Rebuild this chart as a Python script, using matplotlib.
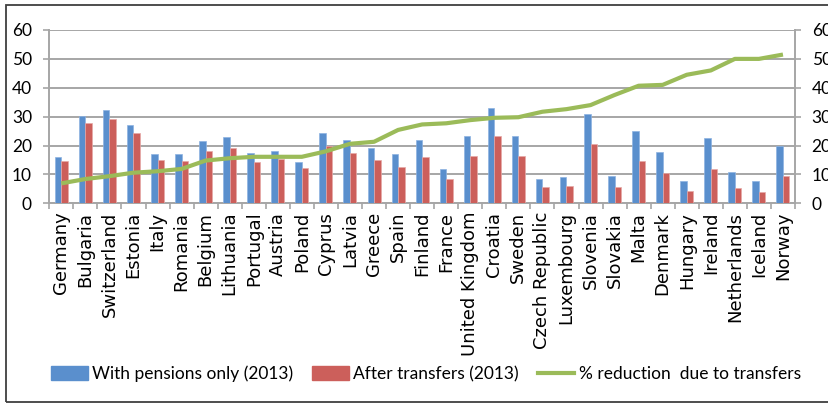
import matplotlib
matplotlib.use("Agg")
import matplotlib.pyplot as plt
from matplotlib.patches import Patch, Rectangle
from matplotlib.lines import Line2D
import numpy as np

countries = ["Germany", "Bulgaria", "Switzerland", "Estonia", "Italy", "Romania",
             "Belgium", "Lithuania", "Portugal", "Austria", "Poland", "Cyprus",
             "Latvia", "Greece", "Spain", "Finland", "France", "United Kingdom",
             "Croatia", "Sweden", "Czech Republic", "Luxembourg", "Slovenia",
             "Slovakia", "Malta", "Denmark", "Hungary", "Ireland", "Netherlands",
             "Iceland", "Norway"]
pensions_only = [15.9, 30.2, 32.3, 27.1, 17.0, 16.9, 21.5, 22.8, 17.3, 18.2, 14.4,
                 24.2, 21.9, 19.0, 17.0, 22.0, 11.9, 23.3, 33.0, 23.3, 8.4, 9.1,
                 30.9, 9.5, 24.9, 17.8, 7.6, 22.5, 10.7, 7.8, 19.8]
after_transfers = [14.6, 27.7, 29.2, 24.2, 15.1, 14.7, 18.2, 19.1, 14.3, 15.4, 12.1,
                   19.9, 17.5, 15.0, 12.6, 16.0, 8.5, 16.4, 23.3, 16.4, 5.8, 6.0,
                   20.4, 5.8, 14.7, 10.5, 4.3, 12.0, 5.3, 3.8, 9.6]
reduction = [6.9, 8.4, 9.4, 10.6, 11.1, 11.9, 14.8, 15.6, 16.1, 16.1, 16.1, 18.0,
             20.6, 21.3, 25.4, 27.3, 27.7, 28.8, 29.6, 29.8, 31.7, 32.6, 34.0,
             37.5, 40.7, 41.0, 44.5, 46.0, 50.0, 50.0, 51.5]
yticks = [0, 10, 20, 30, 40, 50, 60]
legend_labels = ["With pensions only (2013)", "After transfers (2013)",
                 "% reduction  due to transfers"]

BLUE = "#5A8FCD"
RED = "#CC5F5B"
GREEN = "#9BBB59"
GRID = "#A6A6A6"
NUMFONT = "Lato"

W, H = 829, 404
fig = plt.figure(figsize=(W / 100, H / 100), dpi=100)
fig.patch.set_facecolor("white")

# outer frame
fig.patches.append(Rectangle((5.7 / W, 1 - 401.7 / H), 1.2, (401.7 - 5) / H,
                             transform=fig.transFigure, fill=False,
                             edgecolor="#3F3F3F", linewidth=1.3, zorder=0))

left, right, top, bottom = 49.3, 795.0, 30.0, 203.3
ax = fig.add_axes([left / W, 1 - bottom / H, (right - left) / W, (bottom - top) / H])
x = np.arange(len(countries))
bw = 0.27
ax.bar(x - bw / 2, pensions_only, width=bw, color=BLUE, edgecolor="#8DB3E2",
       linewidth=0.5, zorder=3)
ax.bar(x + bw / 2, after_transfers, width=bw, color=RED, edgecolor="#E6A9A7",
       linewidth=0.5, zorder=3)

ax.set_xlim(-0.5, len(countries) - 0.5)
ax.set_ylim(0, 60)
ax.set_yticks(yticks)
ax.set_yticklabels([str(v) for v in yticks], fontsize=12.5, family=NUMFONT)
ax.yaxis.grid(True, color=GRID, linewidth=1.4, zorder=0)
ax.set_axisbelow(True)
ax.set_xticks(x)
ax.set_xticklabels(countries, rotation=90, fontsize=13, family="DejaVu Sans")
ax.set_xticks(np.arange(-0.5, len(countries), 1.0), minor=True)
ax.tick_params(axis="x", which="major", length=0, pad=6)
ax.tick_params(axis="x", which="minor", length=4.5, color=GRID, width=1.2)
ax.tick_params(axis="y", length=4.5, color=GRID, width=1.2, pad=8)
for s in ["top", "right"]:
    ax.spines[s].set_visible(False)
for s in ["left", "bottom"]:
    ax.spines[s].set_color(GRID)
    ax.spines[s].set_linewidth(1.4)

ax2 = ax.twinx()
ax2.plot(x, reduction, color=GREEN, linewidth=3.0, solid_capstyle="butt", zorder=4)
ax2.set_ylim(0, 60)
ax2.set_yticks(yticks)
ax2.set_yticklabels([str(v) for v in yticks], fontsize=12.5, family=NUMFONT)
ax2.tick_params(axis="y", length=4.5, color=GRID, width=1.2, pad=7.5)
for s in ["top", "left", "bottom"]:
    ax2.spines[s].set_visible(False)
ax2.spines["right"].set_color(GRID)
ax2.spines["right"].set_linewidth(1.4)

handles = [Patch(facecolor=BLUE, edgecolor=BLUE),
           Patch(facecolor=RED, edgecolor=RED),
           Line2D([0], [0], color=GREEN, linewidth=3.0)]
fig.legend(handles, legend_labels, loc="center", bbox_to_anchor=(0.514, 1 - 374 / H),
           ncol=3, frameon=False, prop={"family": NUMFONT, "size": 12.5},
           handlelength=2.1, handleheight=0.9, handletextpad=0.25, columnspacing=1.1)

fig.savefig("out.png", dpi=100)
